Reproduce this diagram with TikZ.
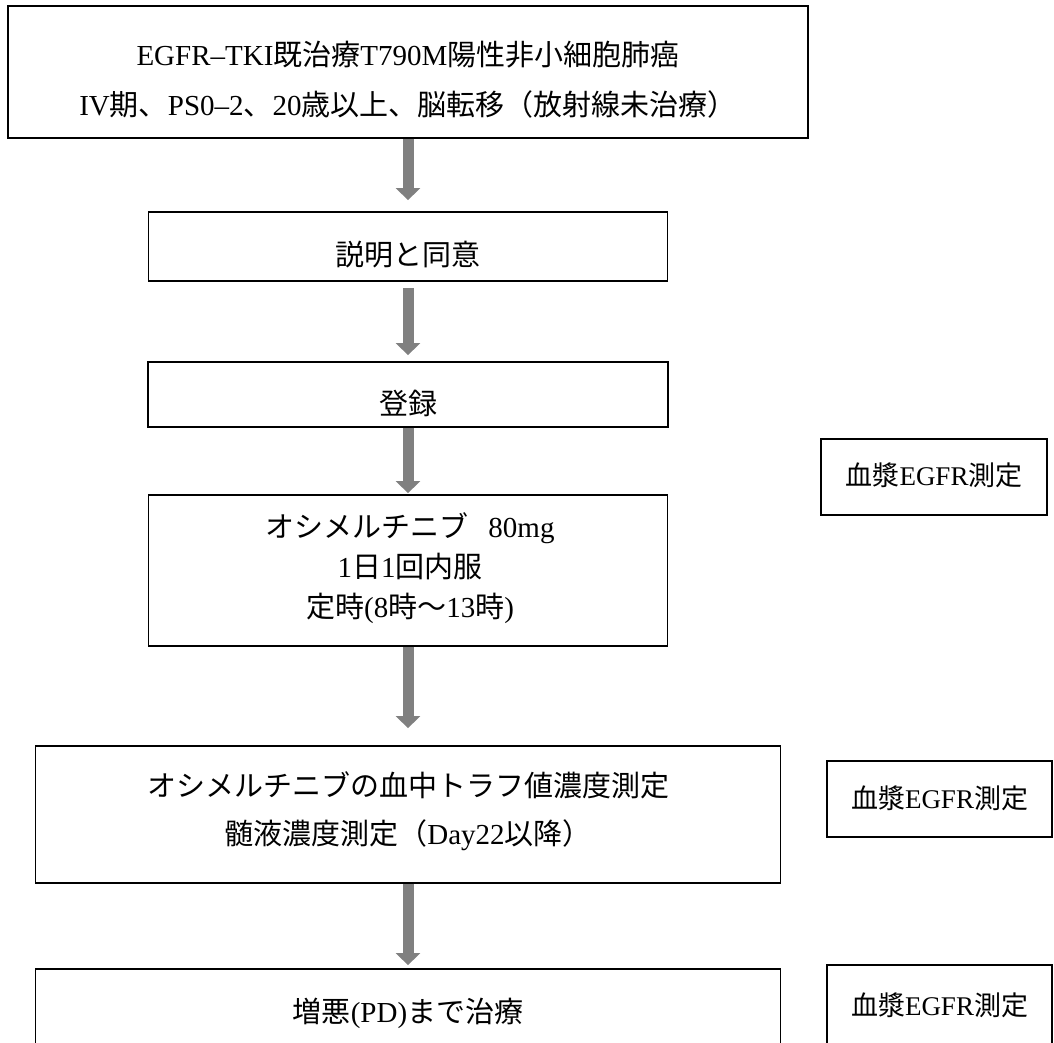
\documentclass[tikz,border=0pt]{standalone}
\usepackage{fontspec}
\setmainfont{Liberation Serif}
\newfontfamily\cjkfont{Noto Sans CJK JP}
\usetikzlibrary{arrows.meta}
\makeatletter
\XeTeXinterchartokenstate=1
\newXeTeXintercharclass\CJKcls
\count@="3000
\loop
  \XeTeXcharclass\count@=\CJKcls
  \advance\count@ by 1
\ifnum\count@<"A000 \repeat
\count@="FF00
\loop
  \XeTeXcharclass\count@=\CJKcls
  \advance\count@ by 1
\ifnum\count@<"FFF0 \repeat
\makeatother
\XeTeXinterchartoks 0 \CJKcls = {\cjkfont}
\XeTeXinterchartoks 4095 \CJKcls = {\cjkfont}
\XeTeXinterchartoks \CJKcls 0 = {\rmfamily}
\XeTeXinterchartoks \CJKcls 4095 = {\rmfamily}
\definecolor{arrowgray}{RGB}{128,128,128}
\begin{document}
\begin{tikzpicture}[x=1pt,y=-1pt,
  box/.style={draw=black, line width=1.8pt, rectangle, inner sep=0pt},
  txt/.style={font=\fontsize{29}{40}\selectfont, align=center, inner sep=0pt},
  sidetxt/.style={font=\fontsize{27}{30}\selectfont, inner sep=0pt},
  flow/.style={draw=arrowgray, line width=11pt, -{Triangle[length=12pt,width=24pt]}}]
\useasboundingbox (0,0) rectangle (1054,1042);
\clip (0,0) rectangle (1054,1042);
% main boxes
\node[box, minimum width=800pt, minimum height=132pt] (b1) at (408,72) {};
\node[box, minimum width=519pt, minimum height=69pt] (b2) at (408,246.5) {};
\node[box, minimum width=520pt, minimum height=65pt] (b3) at (408,394.5) {};
\node[box, minimum width=519pt, minimum height=151pt] (b4) at (408,570.5) {};
\node[box, minimum width=745pt, minimum height=137pt] (b5) at (408,814.5) {};
\node[box, minimum width=745pt, minimum height=82pt] (b6) at (408,1010) {};
% side boxes
\node[box, minimum width=226pt, minimum height=76pt] (r1) at (934,477) {};
\node[box, minimum width=225pt, minimum height=76pt] (r2) at (939.5,799) {};
\node[box, minimum width=225pt, minimum height=80pt] (r3) at (939.5,1005) {};
% texts
\node[txt, font=\fontsize{29}{50}\selectfont] (t1) at (408,80) {EGFR–TKI既治療T790M陽性非小細胞肺癌\\IV期、PS0–2、20歳以上、脳転移（放射線未治療）};
\node[txt] (t2) at (408,255) {説明と同意};
\node[txt] (t3) at (408,403) {登録};
\node[txt] (t4) at (410,568) {オシメルチニブ\hspace{20pt}80mg\\1日1回内服\\定時(8時～13時)};
\node[txt, font=\fontsize{29}{48}\selectfont] (t5) at (408,811) {オシメルチニブの血中トラフ値濃度測定\\髄液濃度測定（Day22以降）};
\node[txt] (t6) at (408,1013) {増悪(PD)まで治療};
\node[sidetxt] (s1) at (934,475) {血漿EGFR測定};
\node[sidetxt] (s2) at (939.5,798) {血漿EGFR測定};
\node[sidetxt] (s3) at (939.5,1005) {血漿EGFR測定};
% arrows
\draw[flow, shorten >=11pt] (b1.south) -- (b1.south |- b2.north);
\draw[flow, shorten <=6pt, shorten >=6pt] (b2.south) -- (b2.south |- b3.north);
\draw[flow, shorten >=1pt] (b3.south) -- (b3.south |- b4.north);
\draw[flow, shorten >=17pt] (b4.south) -- (b4.south |- b5.north);
\draw[flow, shorten >=3pt] (b5.south) -- (b5.south |- b6.north);
\end{tikzpicture}
\end{document}
